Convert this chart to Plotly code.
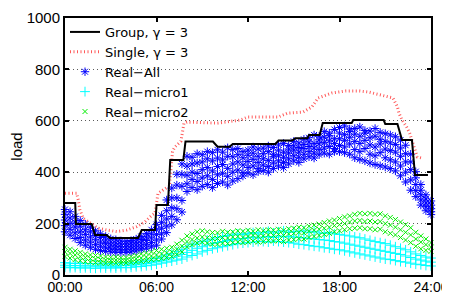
import numpy as np
import plotly.graph_objects as go

# ---------------- data ----------------
# time grid (hours) for the measured series: every 20 minutes, 00:00 .. 24:00
real_hours = np.arange(73) / 3.0

# Real-All (several days overlaid)
all_day1 = [255, 246, 228, 212, 198, 186, 172, 160, 150, 141, 137, 133, 131, 134, 140, 150, 162, 176,
            196, 232, 292, 338, 392, 432, 462, 458, 472, 468, 480, 476, 487, 478, 495, 488, 492, 480,
            486, 498, 490, 494, 502, 496, 506, 512, 504, 520, 514, 528, 534, 545, 540, 558, 552, 566,
            574, 580, 568, 570, 576, 562, 560, 570, 555, 550, 545, 538, 525, 505, 470, 402, 352, 312, 288]
all_day2 = [236, 222, 206, 190, 176, 168, 154, 146, 136, 128, 124, 121, 120, 124, 128, 138, 148, 160,
            176, 205, 250, 300, 350, 392, 424, 432, 436, 440, 452, 444, 455, 448, 462, 460, 468, 456,
            466, 474, 462, 472, 480, 470, 486, 478, 490, 502, 496, 508, 518, 512, 526, 536, 542, 530,
            552, 546, 558, 548, 540, 552, 534, 540, 528, 520, 514, 508, 494, 472, 440, 378, 330, 296, 272]
all_day3 = [214, 200, 186, 168, 158, 148, 137, 128, 122, 116, 112, 110, 109, 112, 117, 125, 134, 144,
            157, 182, 218, 262, 300, 345, 388, 400, 395, 410, 418, 405, 422, 430, 415, 432, 440, 428,
            442, 450, 438, 452, 446, 460, 466, 458, 474, 486, 478, 492, 500, 494, 510, 515, 522, 512,
            530, 524, 536, 520, 512, 524, 506, 498, 510, 490, 484, 478, 462, 440, 410, 352, 312, 280, 258]
all_day4 = [192, 178, 164, 146, 136, 128, 118, 112, 106, 102, 100, 98, 98, 101, 105, 112, 118, 126,
            136, 160, 190, 228, 258, 290, 355, 372, 364, 378, 386, 372, 390, 396, 384, 400, 408, 398,
            418, 424, 414, 428, 422, 436, 444, 438, 452, 464, 458, 470, 480, 474, 488, 494, 500, 492,
            504, 498, 510, 488, 480, 492, 470, 464, 476, 456, 448, 440, 424, 400, 370, 328, 292, 266, 246]
all_day5 = [168, 155, 142, 126, 116, 108, 100, 95, 92, 90, 88, 88, 88, 90, 94, 100, 104, 110,
            116, 140, 165, 195, 215, 245, 325, 340, 332, 345, 352, 340, 356, 362, 350, 366, 375, 385,
            396, 390, 402, 406, 400, 414, 424, 418, 432, 444, 438, 452, 460, 455, 468, 474, 470, 480,
            480, 476, 470, 456, 450, 444, 436, 430, 425, 420, 414, 405, 386, 362, 330, 305, 272, 250, 235]

# Real-micro1
micro1_day1 = [48, 46, 45, 46, 44, 45, 44, 46, 43, 45, 44, 46, 47, 46, 49, 52, 55, 58,
               64, 70, 78, 84, 92, 100, 110, 118, 124, 130, 136, 140, 145, 150, 154, 156, 160, 158,
               162, 165, 160, 166, 170, 164, 168, 172, 166, 170, 168, 172, 166, 170, 164, 162, 166, 160,
               158, 155, 152, 148, 145, 140, 135, 130, 126, 122, 116, 110, 104, 98, 90, 82, 76, 70, 66]
micro1_day2 = [38, 36, 37, 36, 35, 36, 34, 36, 35, 35, 34, 36, 37, 38, 40, 42, 45, 48,
               52, 56, 62, 68, 74, 80, 88, 96, 104, 110, 116, 122, 126, 130, 134, 138, 140, 142,
               145, 148, 144, 148, 150, 146, 152, 148, 150, 148, 146, 144, 142, 140, 138, 136, 134, 130,
               128, 124, 120, 116, 112, 108, 104, 100, 96, 92, 88, 84, 80, 74, 68, 62, 58, 54, 50]
micro1_day3 = [30, 28, 29, 27, 28, 27, 26, 28, 27, 28, 27, 29, 28, 30, 32, 33, 36, 38,
               42, 46, 50, 54, 58, 62, 70, 76, 82, 90, 96, 102, 106, 110, 114, 118, 122, 124,
               126, 128, 130, 130, 128, 132, 130, 128, 126, 124, 120, 118, 115, 112, 110, 106, 104, 100,
               98, 94, 90, 86, 82, 78, 74, 70, 66, 62, 60, 56, 52, 50, 46, 42, 40, 37, 35]

# Real-micro2
micro2_day1 = [108, 100, 94, 88, 82, 78, 76, 74, 70, 68, 70, 67, 68, 72, 76, 82, 86, 90,
               95, 100, 104, 108, 120, 135, 152, 160, 168, 172, 168, 165, 164, 170, 166, 168, 172, 170,
               174, 170, 176, 172, 176, 174, 178, 174, 180, 182, 186, 184, 190, 194, 198, 204, 210, 214,
               220, 226, 230, 236, 240, 238, 240, 236, 238, 230, 224, 216, 206, 196, 184, 166, 152, 140, 126]
micro2_day2 = [90, 84, 78, 72, 68, 64, 62, 60, 58, 56, 58, 56, 57, 60, 63, 66, 70, 74,
               78, 82, 86, 90, 100, 112, 130, 138, 144, 148, 145, 142, 142, 146, 144, 148, 150, 146,
               150, 154, 150, 152, 156, 154, 158, 154, 160, 162, 166, 164, 170, 174, 178, 182, 186, 192,
               196, 200, 206, 210, 212, 208, 210, 206, 208, 200, 194, 186, 176, 166, 156, 140, 128, 118, 108]
micro2_day3 = [72, 66, 60, 56, 52, 50, 48, 47, 46, 46, 47, 46, 47, 49, 51, 53, 56, 60,
               62, 65, 68, 72, 80, 90, 110, 118, 124, 128, 124, 120, 120, 124, 122, 126, 128, 126,
               128, 132, 128, 130, 134, 132, 134, 130, 136, 138, 142, 140, 146, 150, 154, 158, 162, 168,
               172, 176, 180, 182, 184, 180, 180, 176, 178, 168, 162, 156, 146, 136, 126, 112, 102, 96, 92]

# Group, gamma = 3 (step-like schedule)
group_hours = [0, 0.67, 0.72, 1.75, 1.97, 2.73, 2.95, 4.79, 5.03, 5.9, 6.0, 6.75, 6.9, 7.76, 7.9,
               9.7, 10.0, 10.8, 11.0, 13.8, 14.0, 14.9, 15.1, 15.9, 16.0, 16.7, 16.9, 18.8, 18.9,
               20.9, 21.0, 21.8, 22.1, 22.75, 22.95, 23.8]
group_load = [280, 280, 198, 198, 156, 156, 144, 144, 175, 175, 272, 272, 447, 447, 519,
              519, 499, 499, 510, 510, 523, 523, 532, 532, 545, 545, 591, 591, 603,
              603, 588, 588, 525, 525, 389, 389]

# Single, gamma = 3
single_hours = [0, 0.77, 0.87, 0.98, 1.2, 1.53, 1.86, 2.18, 2.73, 3.4, 4.05, 4.7, 5.25, 5.7, 5.9,
                6.0, 6.1, 6.67, 6.85, 7.05, 7.2, 7.6, 7.7, 7.8, 8.0, 10.0, 11.5, 12.0, 14.0, 14.6,
                15.6, 16.2, 16.6, 17.5, 18.4, 19.3, 19.9, 20.7, 21.5, 21.8, 21.9, 22.1, 22.4, 22.6,
                22.9, 23.1, 23.4]
single_load = [318, 318, 292, 253, 220, 207, 195, 182, 175, 169, 175, 188, 207, 233, 240,
               290, 318, 340, 345, 480, 498, 520, 560, 590, 595, 591, 603, 615, 615, 630,
               634, 654, 689, 708, 716, 716, 712, 700, 689, 654, 630, 603, 576, 552,
               498, 459, 455]

x_tickvals = [0, 6, 12, 18, 24]
x_ticktext = ["00:00", "06:00", "12:00", "18:00", "24:00"]
y_tickvals = [0, 200, 400, 600, 800, 1000]

FONT = "Liberation Sans, Arial, Helvetica, sans-serif"
LEGEND_FONT = "DejaVu Sans, Liberation Sans, sans-serif"
FS = 15

fig = go.Figure()

# measured series (drawn first, below the lines)
blue_days = [all_day1, all_day2, all_day3, all_day4, all_day5]
for i, d in enumerate(blue_days):
    fig.add_trace(go.Scatter(
        x=real_hours, y=d, mode="markers", name="Real\u2212All",
        legendgroup="all", showlegend=(i == 0), legendrank=3, cliponaxis=False,
        marker=dict(symbol="asterisk-open", size=7, color="#0000ff",
                    line=dict(color="#0000ff", width=1))))
for i, d in enumerate([micro1_day1, micro1_day2, micro1_day3]):
    fig.add_trace(go.Scatter(
        x=real_hours, y=d, mode="markers", name="Real\u2212micro1",
        legendgroup="m1", showlegend=(i == 0), legendrank=4, cliponaxis=False,
        marker=dict(symbol="cross-thin-open", size=7, color="#00ffff",
                    line=dict(color="#00ffff", width=1))))
for i, d in enumerate([micro2_day1, micro2_day2, micro2_day3]):
    fig.add_trace(go.Scatter(
        x=real_hours, y=d, mode="markers", name="Real\u2212micro2",
        legendgroup="m2", showlegend=(i == 0), legendrank=5, cliponaxis=False,
        marker=dict(symbol="x-thin-open", size=5, color="#00ee00",
                    line=dict(color="#00ee00", width=1))))

fig.add_trace(go.Scatter(
    x=single_hours, y=single_load, mode="lines", name="Single, \u03b3 = 3",
    legendrank=2, line=dict(color="rgb(255,90,90)", width=3, dash="1px,2.5px")))
fig.add_trace(go.Scatter(
    x=group_hours, y=group_load, mode="lines", name="Group, \u03b3 = 3",
    legendrank=1, line=dict(color="black", width=2)))

# the page body adds an 8px offset, so the figure is 442x288 and margins are reduced accordingly
fig.update_layout(
    width=442, height=288,
    margin=dict(l=57, r=19, t=10, b=21, autoexpand=False),
    paper_bgcolor="white", plot_bgcolor="white",
    font=dict(family=FONT, size=FS, color="black"),
    showlegend=True,
    legend=dict(x=0.0, y=1.004, xanchor="left", yanchor="top",
                bgcolor="rgba(0,0,0,0)", borderwidth=0,
                font=dict(family=LEGEND_FONT, size=13), tracegroupgap=0,
                itemwidth=30),
)

fig.update_xaxes(range=[0, 24], tickvals=x_tickvals, ticktext=x_ticktext,
                 showgrid=False, zeroline=False, showline=True, linecolor="black",
                 linewidth=2, mirror="ticks", ticks="inside", ticklen=4, tickwidth=1.5,
                 tickcolor="black", tickfont=dict(family=FONT, size=14),
                 ticklabelstandoff=-2, automargin=False)
fig.update_yaxes(range=[0, 1000], tickvals=y_tickvals,
                 showgrid=True, gridcolor="rgb(90,90,90)", gridwidth=1, griddash="1px,3px",
                 zeroline=False, showline=True, linecolor="black",
                 linewidth=2, mirror="ticks", ticks="inside", ticklen=4, tickwidth=1.5,
                 tickcolor="black", tickfont=dict(family=FONT, size=FS), automargin=False,
                 title=dict(text="load", font=dict(family=FONT, size=FS), standoff=13))

fig.write_html("out.html")
